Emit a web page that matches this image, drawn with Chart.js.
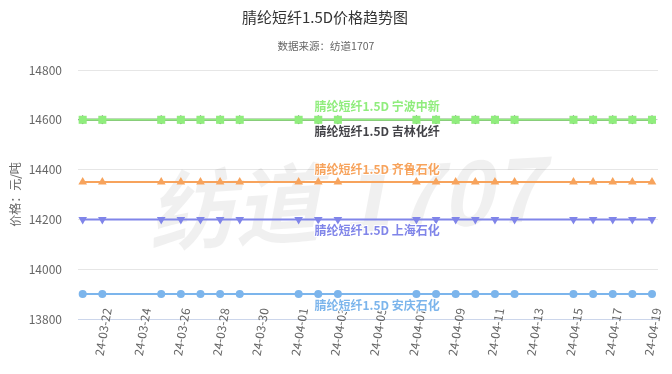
<!DOCTYPE html>
<html><head><meta charset="utf-8">
<script src="https://cdn.jsdelivr.net/npm/chart.js@4"></script>
<style>html,body{margin:0;padding:0;background:#fff}#wrap{width:672px;height:374px;position:relative}</style>
</head><body><div id="wrap"><canvas id="c" width="672" height="374"></canvas></div>
<script>
const titleText = '腈纶短纤1.5D价格趋势图';
const subtitleText = '数据来源：纺道1707';
const yAxisTitle = '价格：元/吨';
const watermarkText = '纺道 1707';
const dates = ['24-03-21','24-03-22','24-03-23','24-03-24','24-03-25','24-03-26','24-03-27','24-03-28','24-03-29','24-03-30',
  '24-03-31','24-04-01','24-04-02','24-04-03','24-04-04','24-04-05','24-04-06','24-04-07','24-04-08','24-04-09',
  '24-04-10','24-04-11','24-04-12','24-04-13','24-04-14','24-04-15','24-04-16','24-04-17','24-04-18','24-04-19'];
const N = null;
const seriesNames = ['腈纶短纤1.5D 安庆石化','腈纶短纤1.5D 吉林化纤','腈纶短纤1.5D 宁波中新','腈纶短纤1.5D 齐鲁石化','腈纶短纤1.5D 上海石化'];
const anqing   = [13900,13900,N,N,13900,13900,13900,13900,13900,N,N,13900,13900,13900,N,N,N,13900,13900,13900,13900,13900,13900,N,N,13900,13900,13900,13900,13900];
const jilin    = [14600,14600,N,N,14600,14600,14600,14600,14600,N,N,14600,14600,14600,N,N,N,14600,14600,14600,14600,14600,14600,N,N,14600,14600,14600,14600,14600];
const ningbo   = [14600,14600,N,N,14600,14600,14600,14600,14600,N,N,14600,14600,14600,N,N,N,14600,14600,14600,14600,14600,14600,N,N,14600,14600,14600,14600,14600];
const qilu     = [14350,14350,N,N,14350,14350,14350,14350,14350,N,N,14350,14350,14350,N,N,N,14350,14350,14350,14350,14350,14350,N,N,14350,14350,14350,14350,14350];
const shanghai = [14200,14200,N,N,14200,14200,14200,14200,14200,N,N,14200,14200,14200,N,N,N,14200,14200,14200,14200,14200,14200,N,N,14200,14200,14200,14200,14200];
const yTicks = [13800,14000,14200,14400,14600,14800];
const labelDateIndex = 15;

const seriesValues = [anqing, jilin, ningbo, qilu, shanghai];
const colors = ['#7cb5ec','#434348','#90ed7d','#f7a35c','#8085e9'];
const styles = [
  {pointStyle:'circle', radius:4, rot:0},
  {pointStyle:'rectRot', radius:4.5, rot:0},
  {pointStyle:'rect', radius:5.7, rot:0},
  {pointStyle:'triangle', radius:5, rot:0},
  {pointStyle:'triangle', radius:5, rot:180}
];
const labelOffsets = [11, 12, -13, -13, 11];
const FONT = '"Noto Sans CJK SC", "Noto Sans", sans-serif';

const datasets = seriesValues.map((vals, i) => ({
  label: seriesNames[i],
  data: vals.map((v, k) => ({x: k, y: v})),
  borderColor: colors[i],
  backgroundColor: colors[i],
  borderWidth: 2,
  pointStyle: styles[i].pointStyle,
  pointRadius: styles[i].radius,
  pointRotation: styles[i].rot,
  pointBorderWidth: 0,
  pointHoverRadius: styles[i].radius,
  spanGaps: true,
  tension: 0,
  order: 4 - i
}));

const textPlugin = {
  id: 'texts',
  beforeDatasetsDraw(chart) {
    const ctx = chart.ctx;
    ctx.save();
    ctx.translate(345, 200);
    ctx.rotate(-0.06);
    ctx.font = 'italic bold 86px ' + FONT;
    ctx.fillStyle = 'rgba(0,0,0,0.06)';
    ctx.textAlign = 'center';
    ctx.textBaseline = 'middle';
    ctx.fillText(watermarkText, 0, 0);
    ctx.restore();
  },
  afterDatasetsDraw(chart) {
    const ctx = chart.ctx;
    const xs = chart.scales.x, ys = chart.scales.y;
    ctx.save();
    ctx.font = 'bold 12px ' + FONT;
    ctx.textAlign = 'center';
    ctx.textBaseline = 'middle';
    ctx.lineJoin = 'round';
    seriesValues.forEach((vals, i) => {
      const v = vals.find(t => t !== null);
      const x = xs.getPixelForValue(labelDateIndex);
      const y = ys.getPixelForValue(v) + labelOffsets[i];
      ctx.strokeStyle = '#ffffff';
      ctx.lineWidth = 2;
      ctx.strokeText(seriesNames[i], x, y);
      ctx.fillStyle = colors[i];
      ctx.fillText(seriesNames[i], x, y);
    });
    ctx.restore();
  },
  afterDraw(chart) {
    const ctx = chart.ctx;
    ctx.save();
    ctx.textAlign = 'center';
    ctx.textBaseline = 'middle';
    ctx.fillStyle = '#333333';
    ctx.font = '15px ' + FONT;
    ctx.fillText(titleText, 325, 17);
    ctx.fillStyle = '#666666';
    ctx.font = '10.5px ' + FONT;
    ctx.fillText(subtitleText, 326, 46);
    ctx.restore();
  }
};

new Chart(document.getElementById('c'), {
  type: 'line',
  data: { datasets },
  options: {
    responsive: false,
    animation: false,
    devicePixelRatio: 1,
    layout: { padding: { top: 70, right: 14, bottom: 0, left: 0 } },
    plugins: { legend: { display: false }, tooltip: { enabled: false }, title: { display: false } },
    scales: {
      x: {
        type: 'linear',
        min: -0.239,
        max: 29.306,
        afterFit(s) { s.height = 55; },
        afterUpdate(s) { s._computeLabelArea = function () { return undefined; }; },
        afterBuildTicks(s) { s.ticks = dates.map((d, k) => ({value: k})).filter(t => t.value % 2 === 1); },
        grid: { display: false, drawTicks: false },
        border: { display: true, color: '#ccd6eb', width: 1 },
        ticks: {
          autoSkip: false,
          minRotation: 80,
          maxRotation: 80,
          padding: -12,
          labelOffset: 5,
          color: '#666666',
          font: { family: FONT, size: 12 },
          callback: (v) => dates[v]
        }
      },
      y: {
        min: 13800,
        max: 14800,
        afterFit(s) { s.width = 78; },
        afterBuildTicks(s) { s.ticks = yTicks.map(v => ({value: v})); },
        grid: { color: '#e6e6e6', drawTicks: false },
        border: { display: false },
        ticks: { padding: 16, color: '#666666', font: { family: FONT, size: 12 }, callback: (v) => String(v) },
        title: { display: true, text: yAxisTitle, color: '#666666', font: { family: FONT, size: 12 }, padding: { top: 8, bottom: 0 } }
      }
    }
  },
  plugins: [textPlugin]
});
</script></body></html>
